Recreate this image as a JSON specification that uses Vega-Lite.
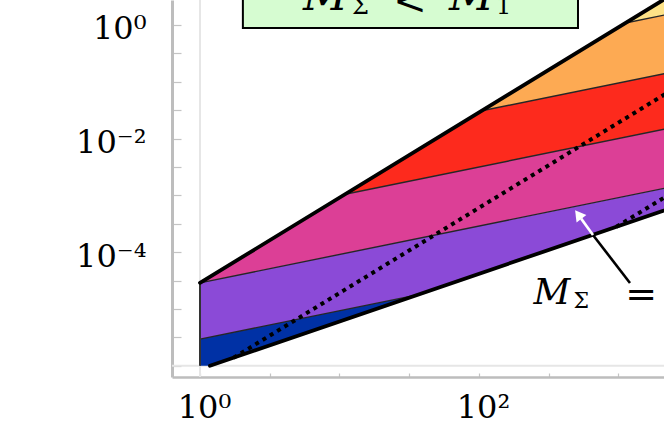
{
  "$schema": "https://vega.github.io/schema/vega-lite/v6.json",
  "width": 492,
  "height": 377,
  "autosize": {"type": "none"},
  "padding": {"left": 172, "top": 0, "right": 0, "bottom": 59},
  "background": "white",
  "config": {"view": {"stroke": null}},
  "encoding": {
    "x": {"field": "x", "type": "quantitative", "scale": {"type": "log", "domain": [0.63, 2120], "nice": false},
      "axis": {"values": [1, 3.1623, 10, 31.623, 100, 316.23, 1000], "labelExpr": "round(log(datum.value)/LN10*2) == 0 ? '10⁰' : round(log(datum.value)/LN10*2) == 4 ? '10²' : ''", "grid": false, "title": null, "domainColor": "#bdbdbd", "domainWidth": 2.5, "tickColor": "#c4c4c4", "tickSize": -4, "tickWidth": 1.2, "labelFont": "DejaVu Serif", "labelFontSize": 32, "labelColor": "#000000", "labelPadding": 19, "labelOverlap": false, "labelFlush": false, "labelBaseline": "top", "labelOffset": 4}},
    "y": {"field": "y", "type": "quantitative", "scale": {"type": "log", "domain": [6.35e-7, 2.754], "nice": false},
      "axis": {"values": [1e-6, 3.1623e-6, 1e-5, 3.1623e-5, 1e-4, 3.1623e-4, 1e-3, 3.1623e-3, 0.01, 0.031623, 0.1, 0.31623, 1], "labelExpr": "round(log(datum.value)/LN10*2) == 0 ? '10⁰' : round(log(datum.value)/LN10*2) == -4 ? '10⁻²' : round(log(datum.value)/LN10*2) == -8 ? '10⁻⁴' : ''", "grid": false, "title": null, "domainColor": "#bdbdbd", "domainWidth": 3, "tickColor": "#c4c4c4", "tickSize": -9, "tickWidth": 1.2, "labelFont": "DejaVu Serif", "labelFontSize": 32, "labelColor": "#000000", "labelPadding": 35, "labelOverlap": false, "labelFlush": false, "labelOffset": 4}}
  },
  "layer": [
    {
      "data": {"values": [{"x": 1, "y": 6.35e-7, "y2": 2.754}]},
      "mark": {"type": "rule", "stroke": "#e6e6e6", "strokeWidth": 2},
      "encoding": {"y2": {"field": "y2"}}
    },
    {
      "data": {"values": [{"x": 0.63, "x2": 2120, "y": 1e-6}]},
      "mark": {"type": "rule", "stroke": "#e6e6e6", "strokeWidth": 2},
      "encoding": {"x2": {"field": "x2"}}
    },
    {
      "data": {"values": [
        {"band": "yellow", "x": 1122, "y": 1.084, "y2": 1.084},
        {"band": "yellow", "x": 3162, "y": 5.129, "y2": 1.82},
        {"band": "orange", "x": 104.7, "y": 0.0309, "y2": 0.0309},
        {"band": "orange", "x": 1122, "y": 1.084, "y2": 0.1012},
        {"band": "orange", "x": 3162, "y": 1.82, "y2": 0.1698},
        {"band": "red", "x": 10.965, "y": 0.001047, "y2": 0.001047},
        {"band": "red", "x": 104.7, "y": 0.0309, "y2": 0.003236},
        {"band": "red", "x": 3162, "y": 0.1698, "y2": 0.01778},
        {"band": "magenta", "x": 1, "y": 2.884e-5, "y2": 2.884e-5},
        {"band": "magenta", "x": 10.965, "y": 0.001047, "y2": 9.55e-5},
        {"band": "magenta", "x": 3162, "y": 0.01778, "y2": 0.001622},
        {"band": "purple", "x": 1, "y": 2.884e-5, "y2": 2.951e-6},
        {"band": "purple", "x": 1.1789, "y": 3.131e-5, "y2": 3.204e-6},
        {"band": "purple", "x": 36.22, "y": 1.736e-4, "y2": 1.777e-5},
        {"band": "purple", "x": 3162, "y": 0.001622, "y2": 7.586e-4},
        {"band": "blue", "x": 1, "y": 2.951e-6, "y2": 1e-6},
        {"band": "blue", "x": 1.1789, "y": 3.204e-6, "y2": 1e-6},
        {"band": "blue", "x": 36.22, "y": 1.777e-5, "y2": 1.777e-5}
      ]},
      "mark": {"type": "area", "clip": true, "strokeWidth": 0},
      "encoding": {
        "y": {"field": "y", "type": "quantitative", "stack": null},
        "y2": {"field": "y2"},
        "color": {"field": "band", "type": "nominal", "scale": {"domain": ["yellow", "orange", "red", "magenta", "purple", "blue"], "range": ["#fde287", "#fdaa53", "#fd2a1d", "#dc3f96", "#8b4ad7", "#0031a5"]}, "legend": null}
      }
    },
    {
      "data": {"values": [
        {"id": "L1", "x": 1, "y": 2.951e-6}, {"id": "L1", "x": 36.22, "y": 1.777e-5},
        {"id": "L2", "x": 1, "y": 2.884e-5}, {"id": "L2", "x": 3162, "y": 0.001622},
        {"id": "L3", "x": 10.965, "y": 0.001047}, {"id": "L3", "x": 3162, "y": 0.01778},
        {"id": "L4", "x": 104.7, "y": 0.0309}, {"id": "L4", "x": 3162, "y": 0.1698},
        {"id": "L5", "x": 1122, "y": 1.084}, {"id": "L5", "x": 3162, "y": 1.82}
      ]},
      "mark": {"type": "line", "clip": true, "stroke": "#262626", "strokeWidth": 1.4},
      "encoding": {"detail": {"field": "id", "type": "nominal"}}
    },
    {
      "data": {"values": [{"x": 1, "y": 1e-6, "y2": 2.884e-5}]},
      "mark": {"type": "rule", "clip": true, "stroke": "#333333", "strokeWidth": 2},
      "encoding": {"y2": {"field": "y2"}}
    },
    {
      "data": {"values": [
        {"id": "D1", "x": 1.742, "y": 1.388e-6}, {"id": "D1", "x": 3162, "y": 0.1074},
        {"id": "D2", "x": 966.1, "y": 2.803e-4}, {"id": "D2", "x": 3162, "y": 0.00166}
      ]},
      "mark": {"type": "line", "clip": true, "stroke": "#000000", "strokeWidth": 4, "strokeDash": [4, 4.5], "strokeCap": "butt"},
      "encoding": {"detail": {"field": "id", "type": "nominal"}}
    },
    {
      "data": {"values": [
        {"id": "T", "x": 1, "y": 2.884e-5}, {"id": "T", "x": 3162, "y": 5.129},
        {"id": "B", "x": 1.1789, "y": 1e-6}, {"id": "B", "x": 3162, "y": 7.586e-4}
      ]},
      "mark": {"type": "line", "clip": true, "stroke": "#000000", "strokeWidth": 3.8, "strokeCap": "round"},
      "encoding": {"detail": {"field": "id", "type": "nominal"}}
    },
    {
      "data": {"values": [{"x": 1209, "y": 2.87e-5, "x2": 656.6, "y2": 2.01e-4}]},
      "mark": {"type": "rule", "clip": true, "stroke": "#000000", "strokeWidth": 2.6},
      "encoding": {"x2": {"field": "x2"}, "y2": {"field": "y2"}}
    },
    {
      "data": {"values": [{"x": 656.6, "y": 2.01e-4, "x2": 540, "y2": 3.9e-4}]},
      "mark": {"type": "rule", "clip": true, "stroke": "#ffffff", "strokeWidth": 2.6},
      "encoding": {"x2": {"field": "x2"}, "y2": {"field": "y2"}}
    },
    {
      "data": {"values": [{"x": 515, "y": 4.6e-4}]},
      "mark": {"type": "point", "shape": "triangle-up", "filled": true, "fill": "#ffffff", "stroke": null, "size": 150, "angle": 323, "opacity": 1}
    },
    {
      "data": {"values": [{"x": 2.03, "x2": 512.6, "y": 0.885, "y2": 10}]},
      "mark": {"type": "rect", "clip": true, "fill": "#d6fcd1", "stroke": "#000000", "strokeWidth": 2},
      "encoding": {"x2": {"field": "x2"}, "y2": {"field": "y2"}}
    },
    {
      "data": {"values": [{"x": 5.474, "y": 1.837, "t": "M"}, {"x": 60.95, "y": 1.837, "t": "M"}]},
      "mark": {"type": "text", "font": "DejaVu Serif", "fontStyle": "italic", "fontSize": 44, "align": "left", "baseline": "alphabetic", "color": "#000000"},
      "encoding": {"text": {"field": "t"}}
    },
    {
      "data": {"values": [{"x": 12.29, "y": 1.562, "t": "Σ"}, {"x": 132.4, "y": 1.562, "t": "1"}]},
      "mark": {"type": "text", "font": "DejaVu Serif", "fontSize": 24, "align": "left", "baseline": "alphabetic", "color": "#000000"},
      "encoding": {"text": {"field": "t"}}
    },
    {
      "data": {"values": [{"x": 32.0, "y": 1.562, "t": "<"}]},
      "mark": {"type": "text", "font": "DejaVu Serif", "fontSize": 40, "align": "center", "baseline": "alphabetic", "color": "#000000"},
      "encoding": {"text": {"field": "t"}}
    },
    {
      "data": {"values": [{"x": 246, "y": 1.225e-5, "t": "M"}]},
      "mark": {"type": "text", "font": "DejaVu Serif", "fontStyle": "italic", "fontSize": 36, "align": "left", "baseline": "alphabetic", "color": "#000000"},
      "encoding": {"text": {"field": "t"}}
    },
    {
      "data": {"values": [{"x": 475, "y": 1.042e-5, "t": "Σ"}]},
      "mark": {"type": "text", "font": "DejaVu Serif", "fontSize": 22, "align": "left", "baseline": "alphabetic", "color": "#000000"},
      "encoding": {"text": {"field": "t"}}
    },
    {
      "data": {"values": [{"x": 1120, "y": 1.1e-5, "t": "="}]},
      "mark": {"type": "text", "font": "DejaVu Serif", "fontSize": 38, "align": "left", "baseline": "alphabetic", "color": "#000000"},
      "encoding": {"text": {"field": "t"}}
    }
  ]
}
